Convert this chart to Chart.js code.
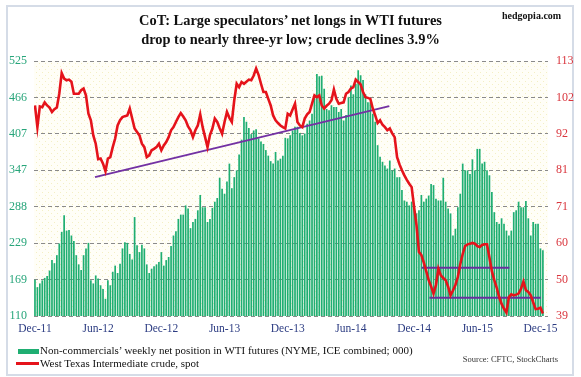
<!DOCTYPE html>
<html><head><meta charset="utf-8">
<script src="https://cdn.jsdelivr.net/npm/chart.js@4"></script>
<style>
html,body{margin:0;padding:0;background:#fff;}
#wrap{position:relative;width:581px;height:377px;overflow:hidden;background:#fff;}
#frame{position:absolute;left:6px;top:5px;width:568px;height:371px;box-sizing:border-box;border:2px solid #d5dce7;}
#c{position:absolute;left:0;top:0;}
.t{position:absolute;font-family:"Liberation Serif","Times New Roman",serif;white-space:nowrap;color:#111;}
#title{left:0;width:581px;top:10px;text-align:center;font-weight:bold;font-size:15.5px;line-height:19px;transform:scaleX(0.93);transform-origin:290px 0;}
#brand{left:502px;top:10px;font-weight:bold;font-size:10px;}
.sw{position:absolute;}
</style>
</head><body>
<div id="wrap">
  <div id="frame"></div>
  <canvas id="c" width="581" height="377"></canvas>
  <div class="t" id="title">CoT: Large speculators’ net longs in WTI futures<br>drop to nearly three-yr low; crude declines 3.9%</div>
  <div class="t" id="brand">hedgopia.com</div>
  <div class="sw" style="left:18px;top:349px;width:21px;height:5px;background:#1fae72;"></div>
  <div class="t" style="left:40px;top:344px;font-size:11px;">Non-commercials’ weekly net position in WTI futures (NYME, ICE combined; 000)</div>
  <div class="sw" style="left:16px;top:362px;width:23px;height:3px;background:#e5131b;"></div>
  <div class="t" style="left:40px;top:357px;font-size:11px;">West Texas Intermediate crude, spot</div>
  <div class="t" style="right:23px;top:354px;font-size:8.5px;color:#333;">Source: CFTC, StockCharts</div>
</div>
<script>
// ---- data ----
const xTickLabels = ["Dec-11","Jun-12","Dec-12","Jun-13","Dec-13","Jun-14","Dec-14","Jun-15","Dec-15"];
const xTickWeeks = [0,26,52,78,104,130,156,182,208];
const leftTickLabels = ["110","169","229","288","347","407","466","525"];
const rightTickLabels = ["39","50","60","71","81","92","102","113"];

// Non-commercials' weekly net position in WTI futures (000), weekly from early Dec 2011
const netLongs = [
169,157,163,168,172,175,184,201,196,209,228,247,274,249,250,241,232,209,194,185,
209,220,229,168,163,176,171,160,154,138,168,160,182,192,180,195,220,230,229,211,
202,271,225,214,226,220,194,180,187,191,194,198,214,192,201,206,224,241,248,268,
275,275,290,285,253,263,268,282,307,287,287,263,268,286,296,302,335,317,309,329,
358,318,336,347,373,397,434,426,416,406,412,414,399,394,390,380,371,362,358,377,
363,366,371,400,399,404,412,418,418,408,404,407,423,428,439,469,504,500,501,480,
447,445,453,450,450,442,447,428,437,466,485,471,488,510,502,494,471,458,458,439,
426,388,369,361,355,350,363,347,350,336,336,315,298,296,290,296,290,277,282,307,
296,301,306,325,323,301,298,298,335,296,285,277,241,252,287,309,358,347,347,341,
365,347,382,382,358,361,347,339,312,279,263,260,269,260,249,241,249,279,282,296,
287,287,297,269,241,263,260,260,220,217];

// West Texas Intermediate crude, spot ($), weekly
const crude = [
100.1,93.8,99.8,99.6,101,100.1,99.5,98.2,99,99.5,103.5,109.5,107.9,107.4,107.6,107,103.5,103.5,103.5,104.5,
105,103,97.7,95.8,91.4,89,84.5,84.7,83.2,81,84.7,85.1,88,90.5,94.3,95.8,96.7,97,97.2,99.2,
96.3,93.4,92.4,91.4,89,88,85.1,85.6,87.1,87.5,88,89,87.1,88.5,89.5,90.9,92.9,93.8,95.3,96.7,
97.9,96.9,95.8,94,92.9,90.9,92.9,94.3,97.5,93.8,90.9,88,91.5,93.4,96.3,95.3,93.5,91.9,95.3,98.2,
96.5,95.3,101.6,106.4,105.4,106.9,106.4,107,107.6,107.4,108.8,110.8,109,106.4,104,104,102,100.1,97.2,95.8,
95,94.3,93.8,93.4,97.7,97.2,98.9,100.6,95.3,94.3,93.8,96.3,97.5,98.2,100.6,103,102.5,103,100.1,99.2,
100,100.6,101.6,104.7,102,100.6,100.8,101,103.5,104,105,105.4,107.6,106.9,106.2,104,102.5,102.3,102,99.2,
97.2,95,95.8,94.5,93.8,92.9,93.4,92,90.9,85.1,83,81.3,79.8,78.5,77.4,76.4,70.6,65.3,57.6,56.7,
54.5,52,49.4,47.6,45.5,48,52.7,50.8,50,49.4,47.5,45,46.4,48,50.3,54,57,59.3,59.8,60,
60.2,60,59.3,59,59.6,59.8,59.8,56,52,49.4,47.2,44.5,42.5,41.1,40,44.5,45.3,45,45.2,45.5,
46.9,49,46.5,46,45,43,41,41.1,41.4,39.7];

// trend lines drawn on the chart (week index, crude $)
const trendRising = [{x:24.7,y:79.3},{x:145.8,y:99.9}];
const rangeUpper = [{x:159.1,y:53.0},{x:195.2,y:53.0}];
const rangeLower = [{x:162.3,y:44.3},{x:208.1,y:44.3}];

// ---- chart ----
const serif = '"Liberation Serif","Times New Roman",serif';
const bgPlugin = {
  id:'bgPattern',
  beforeDraw(chart){
    const {ctx, chartArea:a} = chart;
    const pc = document.createElement('canvas'); pc.width = 6; pc.height = 6;
    const p = pc.getContext('2d');
    p.fillStyle = '#fffef7'; p.fillRect(0,0,6,6);
    p.fillStyle = '#f4efc4'; p.fillRect(0,0,1,1); p.fillRect(3,3,1,1);
    ctx.save();
    ctx.fillStyle = ctx.createPattern(pc,'repeat');
    ctx.fillRect(a.left, a.top, a.right - a.left, a.bottom - a.top);
    ctx.restore();
  }
};

new Chart(document.getElementById('c'), {
  type: 'bar',
  data: {
    datasets: [
      {type:'line', data: crude.map((v,i)=>({x:i,y:v})), yAxisID:'y1', borderColor:'#e5131b', borderWidth:2.6, pointRadius:0, tension:0, order:1},
      {type:'line', data: trendRising, yAxisID:'y1', borderColor:'#7331a3', borderWidth:2, pointRadius:0, order:2},
      {type:'line', data: rangeUpper, yAxisID:'y1', borderColor:'#6a2f9e', borderWidth:2, pointRadius:0, order:2},
      {type:'line', data: rangeLower, yAxisID:'y1', borderColor:'#6a2f9e', borderWidth:2, pointRadius:0, order:2},
      {type:'bar', data: netLongs.map((v,i)=>({x:i,y:v})), yAxisID:'y', backgroundColor:'#1fae72', borderColor:'#0f8a55', borderWidth:0, barPercentage:0.7, categoryPercentage:1, order:3}
    ]
  },
  options: {
    responsive:false, animation:false,
    layout:{padding:{top:61, bottom:39, left:0, right:0}},
    plugins:{legend:{display:false}, tooltip:{enabled:false}},
    scales:{
      x:{type:'linear', min:-0.4, max:211.1, offset:false,
        afterFit(s){ s.height = 22; },
        afterBuildTicks(s){ s.ticks = xTickWeeks.map(v=>({value:v})); },
        grid:{display:false, drawTicks:false}, border:{display:false},
        ticks:{autoSkip:false, maxRotation:0, padding:6, color:'#2c3c82', font:{family:serif, size:11.5},
          callback(v){ const k = xTickWeeks.indexOf(v); return k>=0 ? xTickLabels[k] : ''; }}
      },
      y:{position:'left', min:110, max:525,
        afterFit(s){ s.width = 34; },
        afterBuildTicks(s){ s.ticks = leftTickLabels.map((l,i)=>({value:110 + i*(525-110)/7})); },
        grid:{color:'#8a8a8a', lineWidth:1, drawTicks:false}, border:{display:false, dash:[4,3]},
        ticks:{padding:7, color:'#27a57a', font:{family:serif, size:12}, callback(v,i){ return leftTickLabels[i]; }}
      },
      y1:{position:'right', min:39, max:113,
        afterFit(s){ s.width = 33; },
        afterBuildTicks(s){ s.ticks = rightTickLabels.map((l,i)=>({value:39 + i*(113-39)/7})); },
        grid:{display:false, drawTicks:false}, border:{display:false},
        ticks:{padding:8, color:'#d9353d', font:{family:serif, size:12}, callback(v,i){ return rightTickLabels[i]; }}
      }
    }
  },
  plugins:[bgPlugin]
});
</script>
</body></html>
